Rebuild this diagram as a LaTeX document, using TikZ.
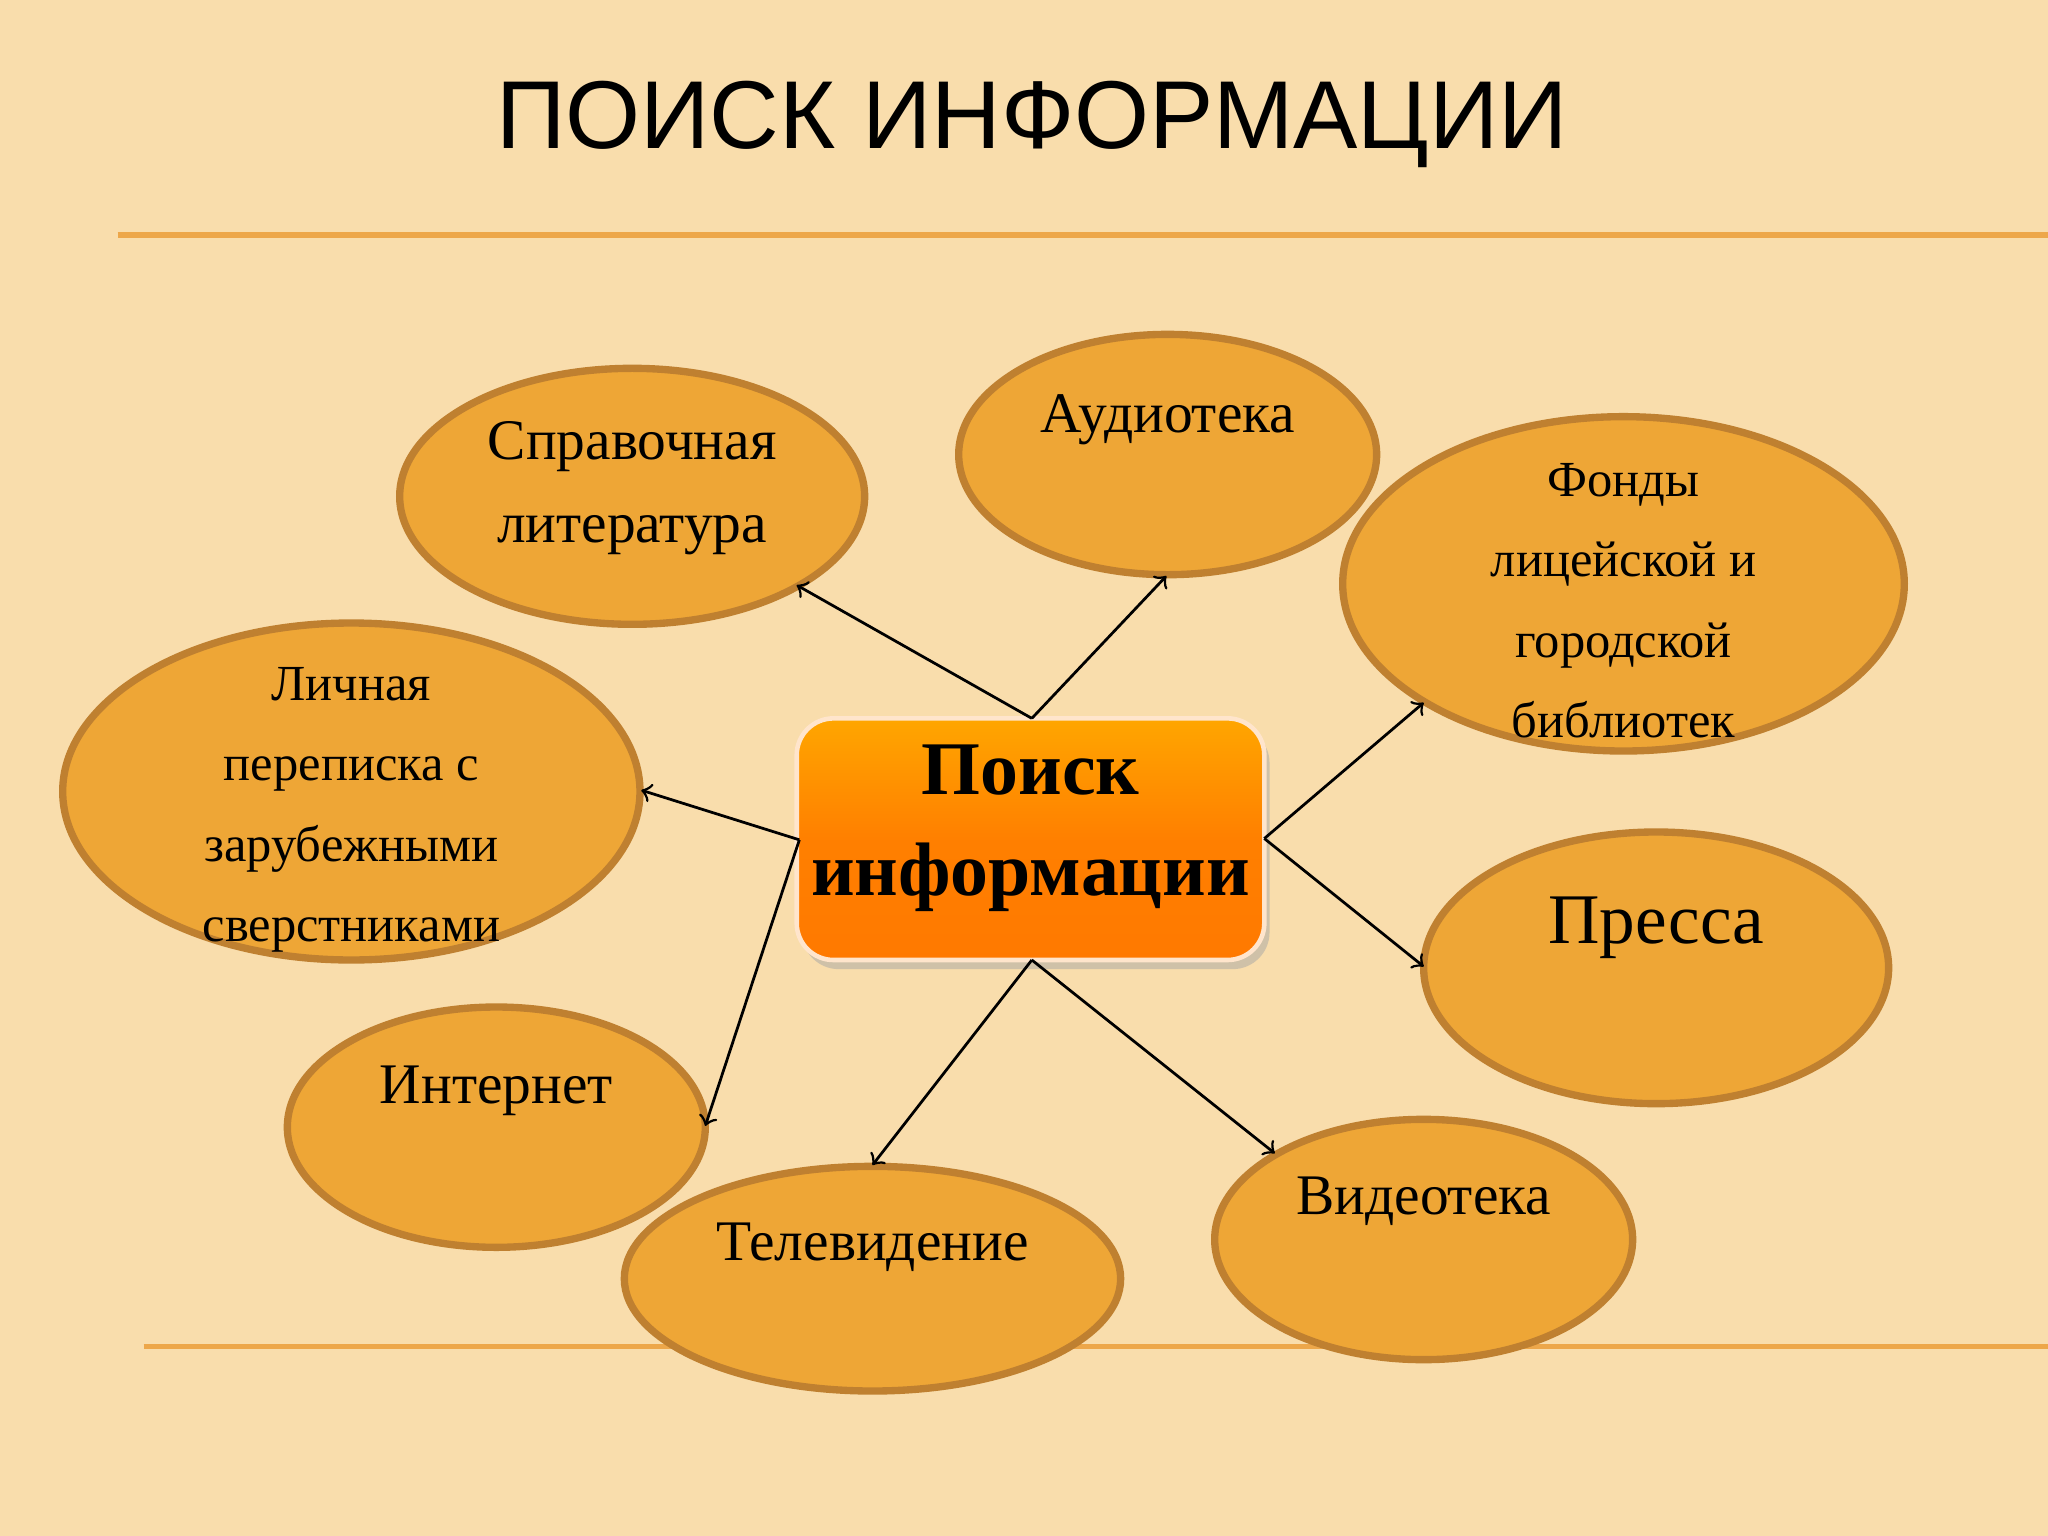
\documentclass[tikz,border=0pt]{standalone}
\usepackage{fontspec}
\setmainfont{Liberation Serif}
\newfontfamily\titlefont{Liberation Sans}
\usetikzlibrary{shapes.geometric}
\definecolor{bg}{HTML}{F9DDAC}
\definecolor{ell}{HTML}{EEA636}
\definecolor{ellb}{HTML}{BF8030}
\definecolor{rule}{HTML}{EDA74A}
\tikzset{
  oval/.style={ellipse,draw=ellb,line width=1.6pt,fill=ell,inner sep=0pt},
  lab/.style={align=center,font=\fontsize{12.5}{15}\selectfont,text=black},
  arr/.style={->,line width=0.6pt}
}
\begin{document}
\begin{tikzpicture}[x=0.01cm,y=-0.01cm]
\fill[bg] (0,0) rectangle (1568,1176);
\useasboundingbox (0,0) rectangle (1568,1176);
\node[font=\titlefont\fontsize{21}{24}\selectfont] (title) at (790,95) {ПОИСК ИНФОРМАЦИИ};
\draw[rule,line width=1.2pt] (90,180) -- (1568,180);
\draw[rule,line width=1.2pt] (110,1031) -- (1568,1031);
% ellipses
\node[oval,minimum width=356\pgflinewidth/\pgflinewidth*0.01cm,minimum height=196*0.01cm] (spr) at (484,380) {};
\node[oval,minimum width=320*0.01cm,minimum height=184*0.01cm] (aud) at (894,348) {};
\node[oval,minimum width=430*0.01cm,minimum height=256*0.01cm] (fon) at (1243,447) {};
\node[oval,minimum width=442*0.01cm,minimum height=258*0.01cm] (lic) at (269,606) {};
\node[oval,minimum width=356*0.01cm,minimum height=208*0.01cm] (pre) at (1268,741) {};
\node[oval,minimum width=320*0.01cm,minimum height=184*0.01cm] (int) at (380,863) {};
\node[oval,minimum width=380*0.01cm,minimum height=172*0.01cm] (tel) at (668,979) {};
\node[oval,minimum width=320*0.01cm,minimum height=184*0.01cm] (vid) at (1090,949) {};
% labels
\node[lab] (sprt) at (484,374) {Справочная\\[3pt]литература};
\node[lab] (audt) at (894,321) {Аудиотека};
\node[lab,font=\fontsize{11}{17.5}\selectfont] (font) at (1243,460) {Фонды\\лицейской и\\городской\\библиотек};
\node[lab,font=\fontsize{11}{17.5}\selectfont] (lict) at (269,620) {Личная\\переписка с\\зарубежными\\сверстниками};
\node[lab,font=\fontsize{15.5}{18}\selectfont] (pret) at (1268,710) {Пресса};
\node[lab] (intt) at (380,835) {Интернет};
\node[lab] (telt) at (668,955) {Телевидение};
\node[lab] (vidt) at (1090,920) {Видеотека};
% center box
\fill[black!35,rounded corners=8pt,opacity=0.5] (614,556) rectangle (972,742);
\shade[rounded corners=8pt,top color=orange!70!yellow,bottom color=orange!95!red,middle color=orange] (610,550) rectangle (968,735);
\draw[white!80!orange,rounded corners=8pt,line width=1pt] (610,550) rectangle (968,735);
\node[align=center,font=\bfseries\fontsize{16.5}{22}\selectfont] (c) at (789,634) {Поиск\\информации};
% connector endpoints
\coordinate (ct) at (790,550);
\coordinate (cb) at (790,735);
\coordinate (cl) at (612,643);
\coordinate (cr) at (968,642);
\coordinate (e1) at (610,448);
\coordinate (e2) at (893,441);
\coordinate (e3) at (1090,538);
\coordinate (e4) at (1090,740);
\coordinate (e5) at (976,883);
\coordinate (e6) at (668,892);
\coordinate (e7) at (491,605);
\coordinate (e8) at (540,862);
\draw[arr] (ct) -- (e1);
\draw[arr] (ct) -- (e2);
\draw[arr] (cr) -- (e3);
\draw[arr] (cr) -- (e4);
\draw[arr] (cb) -- (e5);
\draw[arr] (cb) -- (e6);
\draw[arr] (cl) -- (e7);
\draw[arr] (cl) -- (e8);
\end{tikzpicture}
\end{document}
